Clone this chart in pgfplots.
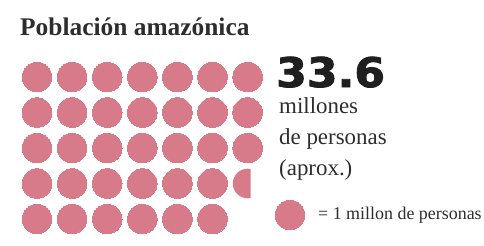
\documentclass[border=0pt]{standalone}
\usepackage{pgfplots}
\pgfplotsset{compat=1.18}
\usepackage{fontspec}
\setmainfont{Liberation Serif}
\newfontfamily\numfont{DejaVu Sans}[BoldFeatures={FakeBold=2}]
\definecolor{dot}{RGB}{215,123,138}
\definecolor{tx}{RGB}{45,45,45}
% a circle mark cut on the right: only the left 0.6 of its width is filled
\pgfdeclareplotmark{partcircle}{%
  \pgfpathrectangle{\pgfpoint{-\pgfplotmarksize}{-\pgfplotmarksize}}{\pgfpoint{1.2\pgfplotmarksize}{2\pgfplotmarksize}}%
  \pgfusepath{clip}%
  \pgfpathcircle{\pgfpointorigin}{\pgfplotmarksize}%
  \pgfusepath{fill}}
\begin{document}
\begin{tikzpicture}
\useasboundingbox (0,0) rectangle (484bp,246bp);
\begin{axis}[
  at={(0,0)}, anchor=south west,
  scale only axis, width=484bp, height=246bp,
  xmin=0, xmax=484, ymin=0, ymax=246, y dir=reverse,
  hide axis, clip=false,
]
% full circles (one circle = 1 million people)
\addplot[only marks, mark=*, mark size=14.8bp, color=dot, mark options={draw=dot, fill=dot, line width=0pt}] coordinates {
(37,77) (72.1,77) (107.2,77) (142.3,77) (177.4,77) (212.5,77) (247.6,77)
(37,112.5) (72.1,112.5) (107.2,112.5) (142.3,112.5) (177.4,112.5) (212.5,112.5) (247.6,112.5)
(37,148) (72.1,148) (107.2,148) (142.3,148) (177.4,148) (212.5,148) (247.6,148)
(37,183.5) (72.1,183.5) (107.2,183.5) (142.3,183.5) (177.4,183.5) (212.5,183.5)
(37,219) (72.1,219) (107.2,219) (142.3,219) (177.4,219) (212.5,219)
};
% partial circle: 0.6 million
\addplot[only marks, mark=partcircle, mark size=14.8bp, color=dot, mark options={fill=dot}] coordinates {(247.6,183.5)};
% legend circle
\addplot[only marks, mark=*, mark size=14.8bp, color=dot, mark options={draw=dot, fill=dot, line width=0pt}] coordinates {(290,215)};
\node[anchor=base west, inner sep=0, text=tx, font=\fontsize{25.5}{25.5}\selectfont\bfseries] at (axis cs:20,36) {Población amazónica};
\node[anchor=base west, inner sep=0, text=black!88, xscale=1.08, font=\fontsize{41}{41}\selectfont\numfont\bfseries] at (axis cs:276,87) {33.6};
\node[anchor=base west, inner sep=0, text=tx, font=\fontsize{23}{23}\selectfont] at (axis cs:279,113) {millones};
\node[anchor=base west, inner sep=0, text=tx, font=\fontsize{23}{23}\selectfont] at (axis cs:279,144) {de personas};
\node[anchor=base west, inner sep=0, text=tx, font=\fontsize{23}{23}\selectfont] at (axis cs:279,175) {(aprox.)};
\node[anchor=base west, inner sep=0, text=tx, font=\fontsize{18}{18}\selectfont] at (axis cs:318,219) {= 1 millon de personas};
\end{axis}
\end{tikzpicture}
\end{document}
